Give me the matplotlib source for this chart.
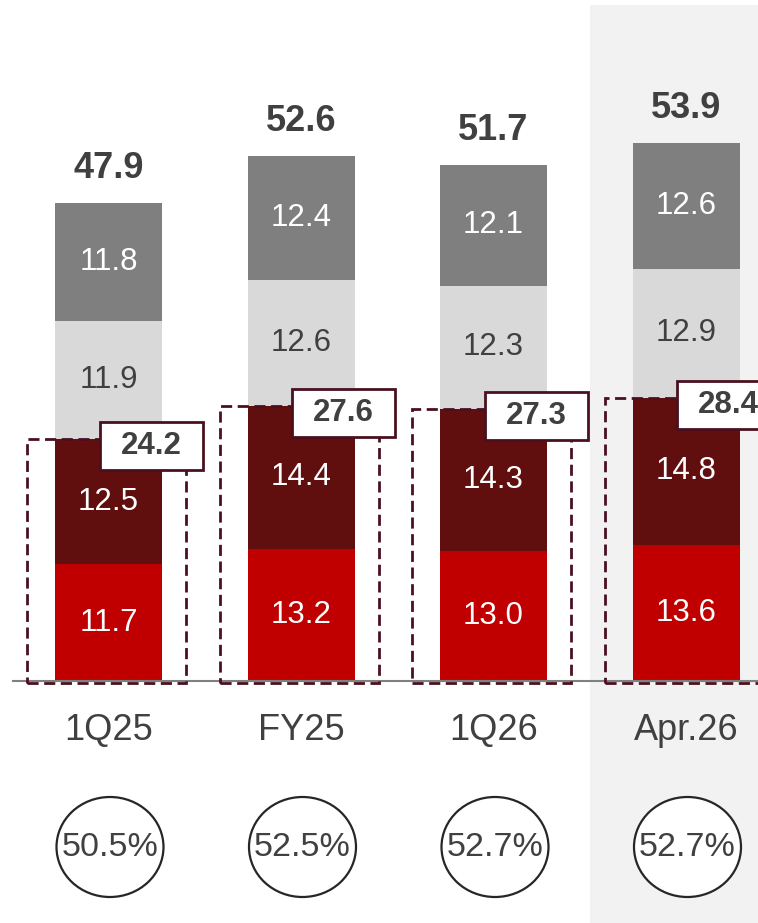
import matplotlib
matplotlib.use("Agg")
import matplotlib.pyplot as plt
from matplotlib.patches import Rectangle, Ellipse

plt.rcParams['font.family'] = ['Liberation Sans', 'DejaVu Sans']

categories = ["1Q25", "FY25", "1Q26", "Apr.26"]
seg_red = [11.7, 13.2, 13.0, 13.6]
seg_dark = [12.5, 14.4, 14.3, 14.8]
seg_light = [11.9, 12.6, 12.3, 12.9]
seg_grey = [11.8, 12.4, 12.1, 12.6]
totals = [47.9, 52.6, 51.7, 53.9]
sub_totals = [24.2, 27.6, 27.3, 28.4]
ratios = ["50.5%", "52.5%", "52.7%", "52.7%"]

W, H = 758, 923
fig = plt.figure(figsize=(W / 100, H / 100), dpi=100)
ax = fig.add_axes([0, 0, 1, 1])
ax.set_axis_off()

px_x = 192.5   # pixels per category
px_y = 9.98    # pixels per unit
x0 = 108.5
base = 681
ax.set_xlim(-x0 / px_x, (W - x0) / px_x)
ax.set_ylim(-(H - base) / px_y, base / px_y)

def dx(p):
    return p / px_x

def dy(p):
    return p / px_y

xs = list(range(len(categories)))
bw = dx(107)

# highlighted background for last category
ax.add_patch(Rectangle((2.5, -(H - base) / px_y), 2, (base - 5) / px_y + (H - base) / px_y,
                       facecolor="#F2F2F2", edgecolor="none", zorder=0))

# baseline
ax.plot([dx(13 - x0), dx(W - x0)], [0, 0], color="#808080", lw=1.5, zorder=3)

colors = ["#C00000", "#600E0E", "#D9D9D9", "#7F7F7F"]
txtcols = ["white", "white", "#404040", "white"]
series = [seg_red, seg_dark, seg_light, seg_grey]
bottoms = [0.0] * len(categories)
for vals, c, tc in zip(series, colors, txtcols):
    ax.bar(xs, vals, bw, bottom=bottoms, color=c, edgecolor="none", zorder=2)
    for i, v in enumerate(vals):
        ax.text(xs[i], bottoms[i] + v / 2, f"{v:.1f}", ha="center", va="center",
                fontsize=22.5, color=tc, zorder=4)
    bottoms = [b + v for b, v in zip(bottoms, vals)]

for i in xs:
    # total label
    ax.text(i, totals[i] + dy(25), f"{totals[i]:.1f}", ha="center", va="baseline",
            fontsize=26, fontweight="bold", color="#404040", zorder=4)
    # dashed box around bottom two segments
    ax.add_patch(Rectangle((i + dx(-81.5), dy(-2)), dx(159), sub_totals[i] + dy(2),
                           facecolor="none", edgecolor="#4A1020", lw=2,
                           linestyle=(0, (4, 2)), zorder=3))
    # subtotal label box
    bx = i + dx(-9)
    by = sub_totals[i] - dy(7) - dy(24)
    ax.add_patch(Rectangle((bx, by), dx(103), dy(48), facecolor="white",
                           edgecolor="#4A1020", lw=2, zorder=5))
    ax.text(bx + dx(51.5), by + dy(24), f"{sub_totals[i]:.1f}", ha="center",
            va="center", fontsize=22.5, fontweight="bold", color="#404040", zorder=6)
    # category label
    ax.text(i, dy(-59), categories[i], ha="center", va="baseline", fontsize=26,
            color="#404040", zorder=4)
    # ratio circle
    cy = dy(-166)
    ax.add_patch(Ellipse((i + dx(1.5), cy), dx(107), dy(100), facecolor="white",
                         edgecolor="#262626", lw=1.6, zorder=3))
    ax.text(i + dx(1.5), cy, ratios[i], ha="center", va="center", fontsize=24.5,
            color="#404040", zorder=4)

fig.savefig("out.png", dpi=100)
